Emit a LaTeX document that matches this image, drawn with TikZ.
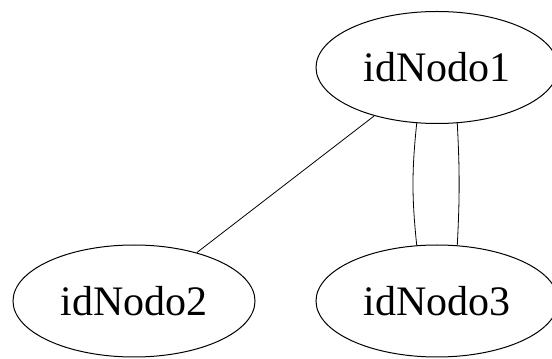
\documentclass[tikz,border=0pt]{standalone}
\usepackage{fontspec}
\setmainfont{Liberation Serif}
\usepackage{tikz}
\usetikzlibrary{shapes.geometric}

\begin{document}
\begin{tikzpicture}[x=1pt,y=1pt,line width=1pt,
  main node/.style={ellipse,draw,inner sep=0pt,minimum width=242pt,minimum height=112pt,font=\fontsize{42}{50}\selectfont}]
\useasboundingbox (0,0) rectangle (552,359);

\foreach \a/\x/\y in {1/437/291.5,2/134/58,3/437/58}{
  \node[main node] (\a) at (\x,\y) {idNodo\a};
}

\path[every edge/.style={draw,line width=0.8pt}]
(1)	edge (2)
(1.250)	edge [bend right=6] (3.110)
(1.290)	edge [bend left=3] (3.70)
;
\end{tikzpicture}
\end{document}
